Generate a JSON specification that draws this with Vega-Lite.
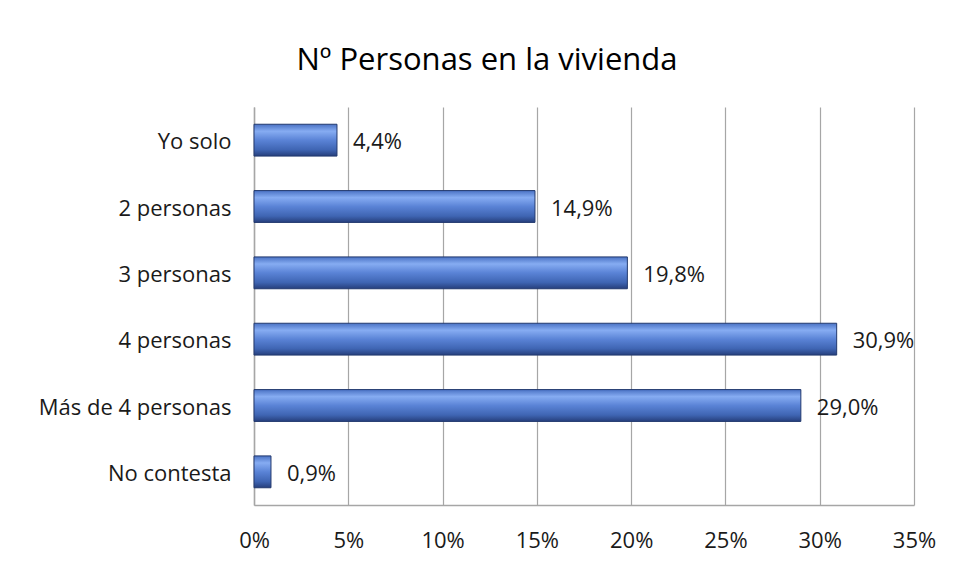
{
  "$schema": "https://vega.github.io/schema/vega-lite/v6.json",
  "width": 660,
  "height": 398,
  "autosize": "none",
  "padding": {"left": 254, "top": 107, "right": 41, "bottom": 60},
  "background": "white",
  "config": {
    "locale": {"number": {"decimal": ",", "thousands": ".", "grouping": [3], "currency": ["", "€"]}},
    "view": {"stroke": null},
    "font": "Open Sans"
  },
  "title": {
    "text": "Nº Personas en la vivienda",
    "font": "Open Sans",
    "fontSize": 31,
    "fontWeight": "normal",
    "color": "#000000",
    "anchor": "middle",
    "dx": -97,
    "offset": 30
  },
  "data": {
    "values": [
      {"cat": "Yo solo", "v": 0.044},
      {"cat": "2 personas", "v": 0.149},
      {"cat": "3 personas", "v": 0.198},
      {"cat": "4 personas", "v": 0.309},
      {"cat": "Más de 4 personas", "v": 0.290},
      {"cat": "No contesta", "v": 0.009}
    ]
  },
  "encoding": {
    "y": {
      "field": "cat",
      "type": "nominal",
      "sort": null,
      "scale": {"paddingInner": 0.52, "paddingOuter": 0.26},
      "axis": {
        "title": null,
        "ticks": false,
        "domain": true,
        "domainColor": "#a6a6a6",
        "domainWidth": 1.5,
        "labelFont": "Open Sans",
        "labelFontSize": 22,
        "labelColor": "#1a1a1a",
        "labelPadding": 23,
        "labelLimit": 400,
        "labelBaseline": "middle",
        "labelOffset": 2
      }
    },
    "x": {
      "field": "v",
      "type": "quantitative",
      "scale": {"domain": [0, 0.35], "nice": false},
      "axis": {
        "title": null,
        "values": [0, 0.05, 0.1, 0.15, 0.2, 0.25, 0.3, 0.35],
        "format": ".0%",
        "ticks": false,
        "grid": true,
        "gridColor": "#a6a6a6",
        "gridWidth": 1.2,
        "domainColor": "#a6a6a6",
        "domainWidth": 1.5,
        "labelFont": "Open Sans",
        "labelFontSize": 22,
        "labelColor": "#1a1a1a",
        "labelPadding": 25,
        "labelFlush": false,
        "labelOverlap": false
      }
    }
  },
  "layer": [
    {
      "mark": {
        "type": "bar",
        "stroke": "#22396e",
        "strokeWidth": 1,
        "color": {
          "gradient": "linear",
          "x1": 0, "y1": 0, "x2": 0, "y2": 1,
          "stops": [
            {"offset": 0, "color": "#4a72c4"},
            {"offset": 0.22, "color": "#86acf2"},
            {"offset": 0.5, "color": "#5a83d6"},
            {"offset": 0.8, "color": "#3f65b3"},
            {"offset": 1, "color": "#263f7c"}
          ]
        }
      }
    },
    {
      "mark": {"type": "text", "align": "left", "dx": 16, "dy": 2, "fontSize": 22, "font": "Open Sans", "color": "#1a1a1a"},
      "encoding": {
        "text": {"field": "v", "type": "quantitative", "format": ".1%"}
      }
    }
  ]
}
